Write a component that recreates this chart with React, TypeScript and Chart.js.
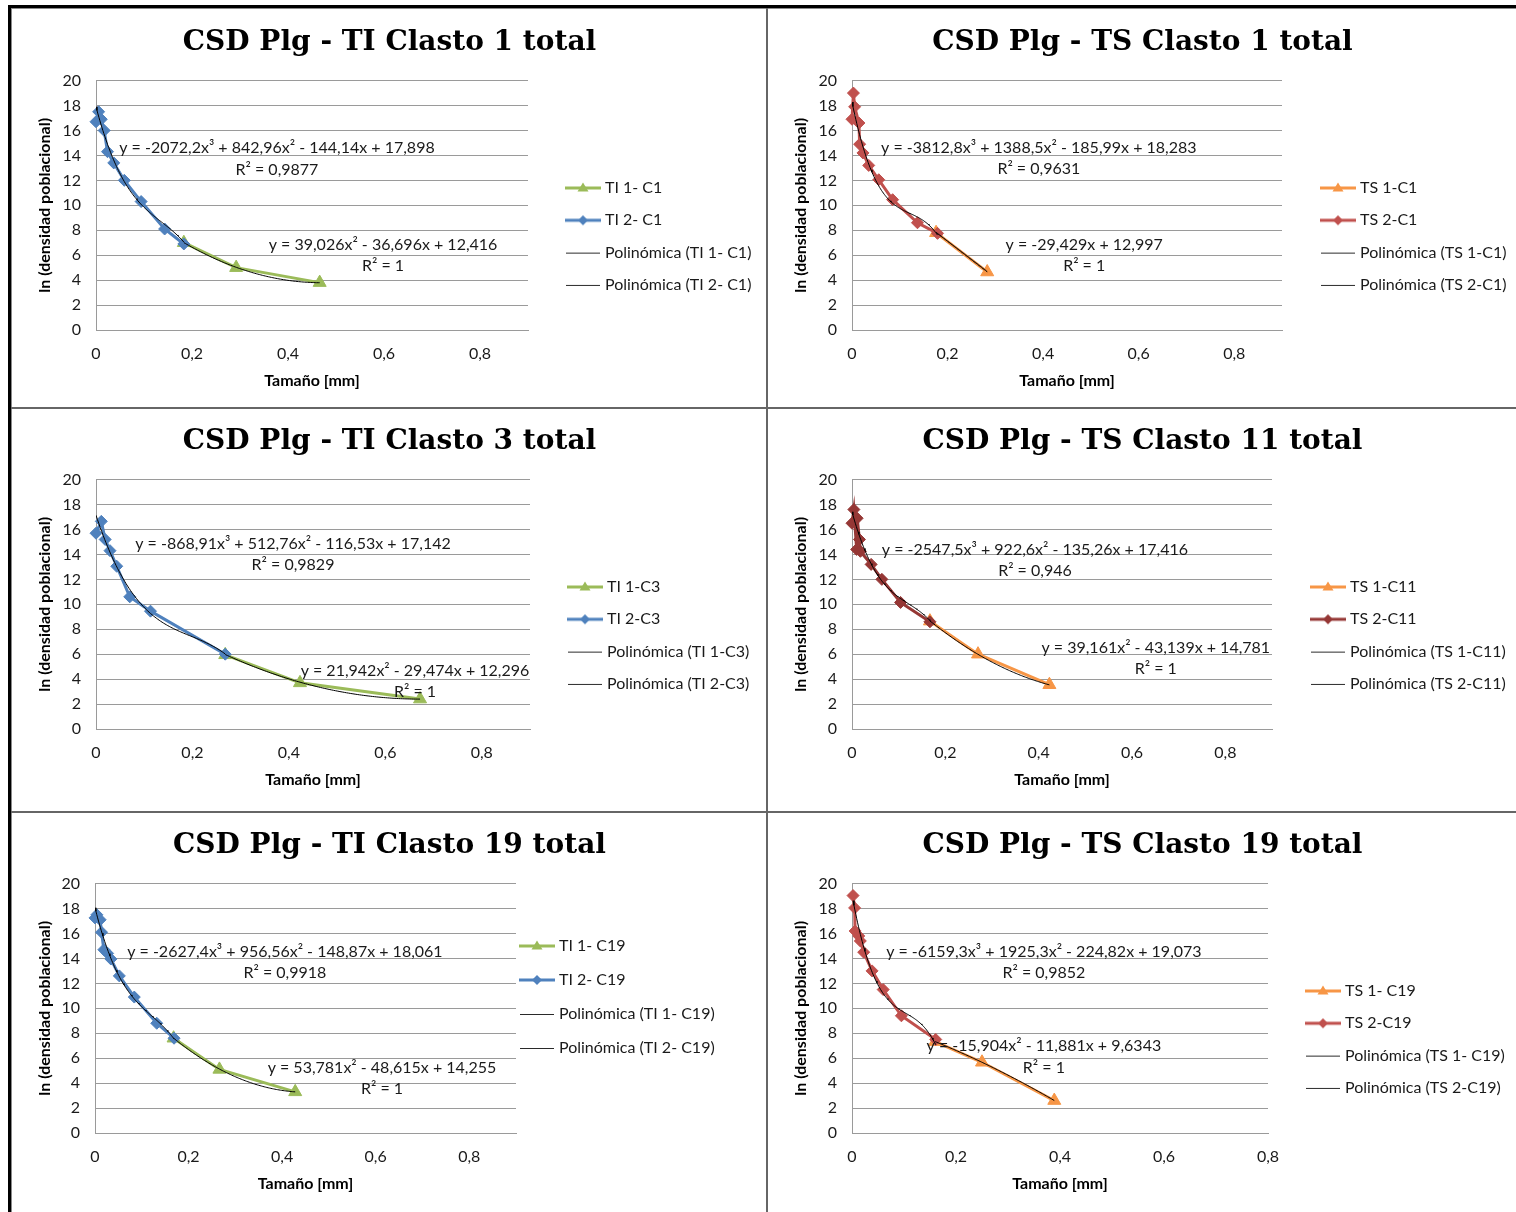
import React, { useEffect, useRef } from "react";
import { Chart, registerables } from "chart.js";

Chart.register(...registerables);

// ---------------- DATA ----------------
// Panel 1 : TI Clasto 1
const TI1_C1_X = [0.183, 0.292, 0.466];
const TI1_C1_Y = [7.0, 5.0, 3.8];
const TI2_C1_X = [0, 0.0055, 0.011, 0.017, 0.024, 0.037, 0.059, 0.094, 0.143, 0.183];
const TI2_C1_Y = [16.7, 17.5, 16.9, 16.0, 14.3, 13.4, 12.0, 10.3, 8.1, 6.9];
const POLY_TI1_C1 = [39.026, -36.696, 12.416];
const POLY_TI2_C1 = [-2072.2, 842.96, -144.14, 17.898];
const EQ_TI_C1 = ["y = -2072,2x³ + 842,96x² - 144,14x + 17,898", "R² = 0,9877", "y = 39,026x² - 36,696x + 12,416", "R² = 1"];

// Panel 2 : TS Clasto 1
const TS1_C1_X = [0.176, 0.283];
const TS1_C1_Y = [7.8, 4.65];
const TS2_C1_X = [0, 0.003, 0.0055, 0.0145, 0.016, 0.023, 0.035, 0.056, 0.085, 0.137, 0.179];
const TS2_C1_Y = [16.9, 19.0, 17.9, 16.6, 14.9, 14.2, 13.2, 12.05, 10.45, 8.6, 7.75];
const POLY_TS1_C1 = [-29.429, 12.997];
const POLY_TS2_C1 = [-3812.8, 1388.5, -185.99, 18.283];
const EQ_TS_C1 = ["y = -3812,8x³ + 1388,5x² - 185,99x + 18,283", "R² = 0,9631", "y = -29,429x + 12,997", "R² = 1"];

// Panel 3 : TI Clasto 3
const TI1_C3_X = [0.268, 0.423, 0.672];
const TI1_C3_Y = [5.95, 3.7, 2.4];
const TI2_C3_X = [0, 0.011, 0.019, 0.029, 0.043, 0.07, 0.113, 0.268];
const TI2_C3_Y = [15.7, 16.65, 15.2, 14.3, 13.05, 10.6, 9.45, 6.0];
const POLY_TI1_C3 = [21.942, -29.474, 12.296];
const POLY_TI2_C3 = [-868.91, 512.76, -116.53, 17.142];
const EQ_TI_C3 = ["y = -868,91x³ + 512,76x² - 116,53x + 17,142", "R² = 0,9829", "y = 21,942x² - 29,474x + 12,296", "R² = 1"];

// Panel 4 : TS Clasto 11
const TS1_C11_X = [0.167, 0.27, 0.423];
const TS1_C11_Y = [8.65, 6.0, 3.55];
const TS2_C11_X = [0, 0.004, 0.01, 0.011, 0.016, 0.018, 0.041, 0.064, 0.104, 0.167];
const TS2_C11_Y = [16.5, 17.6, 14.4, 16.9, 15.2, 14.25, 13.2, 12.0, 10.15, 8.6];
const POLY_TS1_C11 = [39.161, -43.139, 14.781];
const POLY_TS2_C11 = [-2547.5, 922.6, -135.26, 17.416];
const EQ_TS_C11 = ["y = -2547,5x³ + 922,6x² - 135,26x + 17,416", "R² = 0,946", "y = 39,161x² - 43,139x + 14,781", "R² = 1"];

// Panel 5 : TI Clasto 19
const TI1_C19_X = [0.168, 0.266, 0.428];
const TI1_C19_Y = [7.6, 5.1, 3.3];
const TI2_C19_X = [0, 0.004, 0.011, 0.014, 0.019, 0.027, 0.034, 0.052, 0.084, 0.132, 0.169];
const TI2_C19_Y = [17.25, 17.5, 17.1, 16.1, 14.7, 14.4, 13.95, 12.6, 10.9, 8.8, 7.6];
const POLY_TI1_C19 = [53.781, -48.615, 14.255];
const POLY_TI2_C19 = [-2627.4, 956.56, -148.87, 18.061];
const EQ_TI_C19 = ["y = -2627,4x³ + 956,56x² - 148,87x + 18,061", "R² = 0,9918", "y = 53,781x² - 48,615x + 14,255", "R² = 1"];

// Panel 6 : TS Clasto 19
const TS1_C19_X = [0.16, 0.25, 0.389];
const TS1_C19_Y = [7.33, 5.67, 2.6];
const TS2_C19_X = [0.002, 0.005, 0.006, 0.013, 0.016, 0.0225, 0.0386, 0.06, 0.095, 0.161];
const TS2_C19_Y = [19.04, 18.05, 16.2, 15.8, 15.4, 14.5, 13.0, 11.5, 9.4, 7.5];
const POLY_TS1_C19 = [-15.904, -11.881, 9.6343];
const POLY_TS2_C19 = [-6159.3, 1925.3, -224.82, 19.073];
const EQ_TS_C19 = ["y = -6159,3x³ + 1925,3x² - 224,82x + 19,073", "R² = 0,9852", "y = -15,904x² - 11,881x + 9,6343", "R² = 1"];

const X_TICKS = [0, 0.2, 0.4, 0.6, 0.8];
const Y_MIN = 0;
const Y_MAX = 20;
const Y_STEP = 2;

// ---------------- STYLE ----------------
const GREEN = "#9BBB59";
const BLUE = "#4F81BD";
const RED = "#C0504D";
const ORANGE = "#F79646";
const DARKRED = "#953735";
const GRID = "#9a9a9a";
const TEXT = "#1a1a1a";
const SANS = "Lato, 'Open Sans', sans-serif";
const SERIF = "'DejaVu Serif', serif";

const CANVAS_H = 396;
const PLOT_BOTTOM = 320;

type Series = { label: string; xs: number[]; ys: number[]; color: string; marker: "triangle" | "rectRot"; poly: number[]; polyLabel: string };
type PanelCfg = {
  title: string;
  left: number; top: number; w: number;
  plotLeft: number; plotRight: number; xMax: number;
  s1: Series; s2: Series;
  eq: string[]; eqPos: number[][];
  legend: { x: number; y: number; spacing: number };
};

const PANELS: PanelCfg[] = [
  {
    title: "CSD Plg - TI Clasto 1 total", left: 13, top: 10, w: 753,
    plotLeft: 83, plotRight: 515, xMax: 0.9,
    s1: { label: "TI 1- C1", xs: TI1_C1_X, ys: TI1_C1_Y, color: GREEN, marker: "triangle", poly: POLY_TI1_C1, polyLabel: "Polinómica (TI 1- C1)" },
    s2: { label: "TI 2- C1", xs: TI2_C1_X, ys: TI2_C1_Y, color: BLUE, marker: "rectRot", poly: POLY_TI2_C1, polyLabel: "Polinómica (TI 2- C1)" },
    eq: EQ_TI_C1, eqPos: [[0.377, 14.6], [0.377, 12.85], [0.598, 6.83], [0.598, 5.14]],
    legend: { x: 552, y: 178, spacing: 32.3 },
  },
  {
    title: "CSD Plg - TS Clasto 1 total", left: 769, top: 10, w: 747,
    plotLeft: 83, plotRight: 513, xMax: 0.9,
    s1: { label: "TS 1-C1", xs: TS1_C1_X, ys: TS1_C1_Y, color: ORANGE, marker: "triangle", poly: POLY_TS1_C1, polyLabel: "Polinómica (TS 1-C1)" },
    s2: { label: "TS 2-C1", xs: TS2_C1_X, ys: TS2_C1_Y, color: RED, marker: "rectRot", poly: POLY_TS2_C1, polyLabel: "Polinómica (TS 2-C1)" },
    eq: EQ_TS_C1, eqPos: [[0.391, 14.6], [0.391, 12.9], [0.486, 6.83], [0.486, 5.14]],
    legend: { x: 551, y: 178, spacing: 32.3 },
  },
  {
    title: "CSD Plg - TI Clasto 3 total", left: 13, top: 409, w: 753,
    plotLeft: 83, plotRight: 517, xMax: 0.9,
    s1: { label: "TI 1-C3", xs: TI1_C3_X, ys: TI1_C3_Y, color: GREEN, marker: "triangle", poly: POLY_TI1_C3, polyLabel: "Polinómica (TI 1-C3)" },
    s2: { label: "TI 2-C3", xs: TI2_C3_X, ys: TI2_C3_Y, color: BLUE, marker: "rectRot", poly: POLY_TI2_C3, polyLabel: "Polinómica (TI 2-C3)" },
    eq: EQ_TI_C3, eqPos: [[0.4085, 14.86], [0.4085, 13.17], [0.6615, 4.66], [0.6615, 2.97]],
    legend: { x: 554, y: 178, spacing: 32.3 },
  },
  {
    title: "CSD Plg - TS Clasto 11 total", left: 769, top: 409, w: 747,
    plotLeft: 83, plotRight: 503, xMax: 0.9,
    s1: { label: "TS 1-C11", xs: TS1_C11_X, ys: TS1_C11_Y, color: ORANGE, marker: "triangle", poly: POLY_TS1_C11, polyLabel: "Polinómica (TS 1-C11)" },
    s2: { label: "TS 2-C11", xs: TS2_C11_X, ys: TS2_C11_Y, color: DARKRED, marker: "rectRot", poly: POLY_TS2_C11, polyLabel: "Polinómica (TS 2-C11)" },
    eq: EQ_TS_C11, eqPos: [[0.392, 14.38], [0.392, 12.69], [0.651, 6.51], [0.651, 4.82]],
    legend: { x: 541, y: 178, spacing: 32.3 },
  },
  {
    title: "CSD Plg - TI Clasto 19 total", left: 13, top: 813, w: 753,
    plotLeft: 82, plotRight: 503, xMax: 0.9,
    s1: { label: "TI 1- C19", xs: TI1_C19_X, ys: TI1_C19_Y, color: GREEN, marker: "triangle", poly: POLY_TI1_C19, polyLabel: "Polinómica (TI 1- C19)" },
    s2: { label: "TI 2- C19", xs: TI2_C19_X, ys: TI2_C19_Y, color: BLUE, marker: "rectRot", poly: POLY_TI2_C19, polyLabel: "Polinómica (TI 2- C19)" },
    eq: EQ_TI_C19, eqPos: [[0.406, 14.54], [0.406, 12.85], [0.6135, 5.22], [0.6135, 3.53]],
    legend: { x: 506, y: 133, spacing: 34 },
  },
  {
    title: "CSD Plg - TS Clasto 19 total", left: 769, top: 813, w: 747,
    plotLeft: 83, plotRight: 499, xMax: 0.8,
    s1: { label: "TS 1- C19", xs: TS1_C19_X, ys: TS1_C19_Y, color: ORANGE, marker: "triangle", poly: POLY_TS1_C19, polyLabel: "Polinómica (TS 1- C19)" },
    s2: { label: "TS 2-C19", xs: TS2_C19_X, ys: TS2_C19_Y, color: RED, marker: "rectRot", poly: POLY_TS2_C19, polyLabel: "Polinómica (TS 2-C19)" },
    eq: EQ_TS_C19, eqPos: [[0.369, 14.54], [0.369, 12.85], [0.369, 6.99], [0.369, 5.22]],
    legend: { x: 536, y: 178, spacing: 32.3 },
  },
];

// ---------------- HELPERS ----------------
function polyCurve(coefs: number[], xs: number[], n = 90) {
  const a = Math.min(...xs);
  const b = Math.max(...xs);
  const pts: { x: number; y: number }[] = [];
  for (let i = 0; i <= n; i++) {
    const x = a + ((b - a) * i) / n;
    pts.push({ x, y: coefs.reduce((acc, c) => acc * x + c, 0) });
  }
  return pts;
}

function seriesIcon(color: string, marker: string) {
  const c = document.createElement("canvas");
  c.width = 36;
  c.height = 16;
  const g = c.getContext("2d")!;
  g.strokeStyle = color;
  g.lineWidth = 3;
  g.beginPath();
  g.moveTo(0, 8);
  g.lineTo(36, 8);
  g.stroke();
  g.fillStyle = color;
  g.beginPath();
  if (marker === "triangle") {
    g.moveTo(18, 2.5);
    g.lineTo(23.5, 11.5);
    g.lineTo(12.5, 11.5);
  } else {
    g.moveTo(18, 3);
    g.lineTo(23, 8);
    g.lineTo(18, 13);
    g.lineTo(13, 8);
  }
  g.closePath();
  g.fill();
  return c;
}

function trendIcon() {
  const c = document.createElement("canvas");
  c.width = 34;
  c.height = 16;
  const g = c.getContext("2d")!;
  g.fillStyle = "#2a2a2a";
  g.fillRect(0, 8, 34, 1);
  return c;
}

// Keeps the legend box on the right at a fixed width (so the title stays centred
// over the whole panel) and places the legend items where the original shows them.
const legendPlacer = {
  id: "legendPlacer",
  beforeLayout(chart: any, _args: any, opts: any) {
    const lg = chart.legend;
    if (lg && !lg.__fixedFit) {
      const orig = lg.fit.bind(lg);
      lg.fit = () => {
        orig();
        lg.width = opts.boxWidth;
      };
      lg.__fixedFit = true;
    }
  },
  afterLayout(chart: any, _args: any, opts: any) {
    const lg = chart.legend;
    if (!lg) return;
    const pad = lg.options.labels.padding;
    const fs = lg.options.labels.font.size;
    const iconW = 36;
    const boxW = lg.options.labels.pointStyleWidth;
    // icon is centred at x + boxW/2, so x = lineStart + iconW/2 - boxW/2
    lg.left = opts.x + iconW / 2 - boxW / 2 - pad;
    lg.right = lg.left + 400;
    lg.top = opts.y - pad - fs / 2;
    lg.bottom = lg.top + 600;
    lg.width = 400;
    lg.height = 600;
  },
};

const eqLabels = {
  id: "eqLabels",
  afterDatasetsDraw(chart: any, _args: any, opts: any) {
    const ctx = chart.ctx;
    const xs = chart.scales.x;
    const ys = chart.scales.y;
    ctx.save();
    ctx.font = `16px ${SANS}`;
    ctx.fillStyle = TEXT;
    ctx.textAlign = "center";
    ctx.textBaseline = "middle";
    (opts.items || []).forEach((it: any) => {
      ctx.fillText(it.text, xs.getPixelForValue(it.x), ys.getPixelForValue(it.y));
    });
    ctx.restore();
  },
};

function Panel({ cfg }: { cfg: PanelCfg }) {
  const ref = useRef<HTMLCanvasElement>(null);
  useEffect(() => {
    const canvas = ref.current!;
    const fontSize = 16;
    const icons = [seriesIcon(cfg.s1.color, cfg.s1.marker), seriesIcon(cfg.s2.color, cfg.s2.marker), trendIcon(), trendIcon()];
    const mkSeries = (s: Series, order: number) => ({
      label: s.label,
      data: s.xs.map((x, i) => ({ x, y: s.ys[i] })),
      showLine: true,
      borderColor: s.color,
      backgroundColor: s.color,
      borderWidth: 3,
      pointStyle: s.marker,
      pointRadius: s.marker === "triangle" ? 7.5 : 6,
      pointBorderWidth: 1,
      pointBorderColor: s.color,
      pointBackgroundColor: s.color,
      order,
      clip: false as any,
    });
    const mkTrend = (s: Series) => ({
      label: s.polyLabel,
      data: polyCurve(s.poly, s.xs),
      showLine: true,
      borderColor: "#000",
      backgroundColor: "#000",
      borderWidth: 1,
      pointRadius: 0,
      order: 0,
    });
    const chart = new Chart(canvas, {
      type: "scatter",
      data: {
        datasets: [mkSeries(cfg.s1, 2), mkSeries(cfg.s2, 1), mkTrend(cfg.s1), mkTrend(cfg.s2)] as any,
      },
      plugins: [legendPlacer, eqLabels],
      options: {
        animation: false,
        responsive: false,
        devicePixelRatio: 1,
        events: [],
        layout: { padding: 0 },
        plugins: {
          tooltip: { enabled: false },
          title: {
            display: true,
            text: cfg.title,
            color: "#000",
            font: { family: SERIF, size: 28, weight: "bold", lineHeight: 1.2 },
            padding: { top: 16, bottom: 21 },
          },
          legend: {
            display: true,
            position: "right",
            align: "start",
            labels: {
              usePointStyle: true,
              pointStyleWidth: 28,
              padding: cfg.legend.spacing - fontSize,
              color: TEXT,
              font: { family: SANS, size: fontSize },
              generateLabels: (ch: any) =>
                ch.data.datasets.map((ds: any, i: number) => ({
                  text: ds.label,
                  pointStyle: icons[i],
                  fillStyle: "transparent",
                  strokeStyle: "transparent",
                  lineWidth: 0,
                  hidden: false,
                  datasetIndex: i,
                  fontColor: TEXT,
                })),
            },
          } as any,
          legendPlacer: { x: cfg.legend.x, y: cfg.legend.y, boxWidth: cfg.w - cfg.plotRight },
          eqLabels: { items: cfg.eq.map((t, i) => ({ text: t, x: cfg.eqPos[i][0], y: cfg.eqPos[i][1] })) },
        } as any,
        scales: {
          x: {
            type: "linear",
            min: 0,
            max: cfg.xMax,
            afterBuildTicks: (scale: any) => {
              scale.ticks = X_TICKS.filter((v) => v <= cfg.xMax + 1e-9).map((v) => ({ value: v }));
            },
            afterFit: (scale: any) => {
              scale.height = CANVAS_H - PLOT_BOTTOM;
            },
            grid: { display: false, drawTicks: false },
            border: { display: true, color: GRID, width: 1 },
            ticks: {
              padding: 14,
              color: TEXT,
              font: { family: SANS, size: 16 },
              maxRotation: 0,
              callback: (v: any) => String(v).replace(".", ","),
            },
            title: {
              display: true,
              text: "Tamaño [mm]",
              color: "#000",
              font: { family: SANS, size: 16, weight: "bold", lineHeight: 1.2 },
              padding: { top: 0, bottom: 16 },
            },
          },
          y: {
            type: "linear",
            min: Y_MIN,
            max: Y_MAX,
            afterFit: (scale: any) => {
              scale.width = cfg.plotLeft;
            },
            grid: { color: GRID, lineWidth: 1, drawTicks: false },
            border: { display: true, color: GRID, width: 1 },
            ticks: {
              stepSize: Y_STEP,
              padding: 15,
              color: TEXT,
              font: { family: SANS, size: 16 },
            },
            title: {
              display: true,
              text: "ln (densidad poblacional)",
              color: "#000",
              font: { family: SANS, size: 16, weight: "bold", lineHeight: 1.2 },
              padding: { top: 22, bottom: 0 },
            },
          },
        },
      } as any,
    });
    return () => chart.destroy();
  }, [cfg]);
  return (
    <canvas
      ref={ref}
      width={cfg.w}
      height={CANVAS_H}
      style={{ position: "absolute", left: cfg.left, top: cfg.top, width: cfg.w, height: CANVAS_H }}
    />
  );
}

const line = (l: number, t: number, w: number, h: number, c: string) => (
  <div style={{ position: "absolute", left: l, top: t, width: w, height: h, background: c }} />
);

export default function App() {
  return (
    <div style={{ position: "absolute", left: 0, top: 0, width: 1516, height: 1212, background: "#fff", overflow: "hidden" }}>
      {PANELS.map((p, i) => (
        <Panel key={i} cfg={p} />
      ))}
      {line(8, 5, 1508, 3, "#000")}
      {line(8, 5, 3, 1207, "#000")}
      {line(11, 8, 1505, 1, "#8a8a8a")}
      {line(11, 8, 1, 1204, "#8a8a8a")}
      {line(766, 8, 2, 1204, "#666")}
      {line(11, 407, 1505, 2, "#666")}
      {line(11, 811, 1505, 2, "#666")}
    </div>
  );
}
